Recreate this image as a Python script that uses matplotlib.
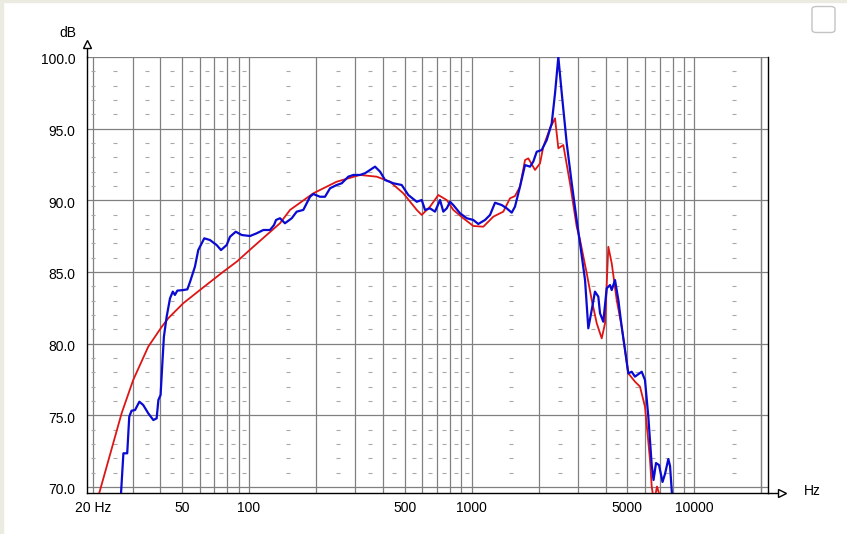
import matplotlib;
matplotlib.use( 'Agg' );
import matplotlib.pyplot as plt;
import numpy as np;

from matplotlib.patches import FancyBboxPatch, Rectangle;
from matplotlib.ticker import FixedLocator, FixedFormatter, NullLocator;
from matplotlib.transforms import ScaledTranslation;


# red trace (smoothed / model)
RED_HZ \
  = [ 21.2, 26.8, 30.2, 35.3, 40.6, 43.4, 50.7, 62.4, 76.7, 88.1,
      104.6, 137.8, 152.9, 194.5, 247.7, 315.2, 374.6, 429.8, 493.2, 566.7,
      596.7, 650.2, 708.5, 772.8, 827, 917, 1017, 1128, 1251, 1387,
      1486, 1565, 1648, 1736, 1796, 1925, 2027, 2097, 2248, 2368,
      2450, 2579, 2764, 2962, 3066, 3286, 3460, 3644, 3837, 3971,
      4108, 4255, 4479, 4717, 5050, 5412, 5700, 6002, 6322, 6434,
      6522, 6692, 6796, 6974 ];
RED_DB \
  = [ 69.5, 75.14, 77.46, 79.79, 81.18, 81.77, 82.82, 83.93, 85.02, 85.72,
      86.76, 88.40, 89.33, 90.49, 91.30, 91.77, 91.65, 91.30, 90.49, 89.33,
      88.98, 89.56, 90.37, 90.02, 89.33, 88.75, 88.21, 88.16, 88.86, 89.21,
      90.14, 90.30, 90.95, 92.81, 92.93, 92.12, 92.58, 93.74, 95.03, 95.72,
      93.63, 93.86, 91.19, 88.16, 87.23, 84.91, 83.05, 81.42, 80.37, 81.42,
      86.76, 85.61, 83.05, 81.18, 77.93, 77.35, 77.00, 75.60, 71.88, 70.02,
      69.44, 69.50, 70.03, 69.44 ];

# blue trace (measured)
BLUE_HZ \
  = [ 26.6, 27.3, 28.4, 29.0, 29.7, 30.8, 32.2, 33.5, 35.3, 37.2,
      38.5, 39.2, 40.1, 41.0, 41.5, 42.7, 44.2, 45.5, 46.5, 47.7,
      50.7, 52.9, 54.4, 57.2, 59.2, 63.0, 66.8, 71.6, 74.9, 79.4,
      82.2, 87.2, 92.8, 101.1, 108.3, 116.0, 124.3, 129.6, 132.3, 137.8,
      145.1, 155.6, 163.8, 175.4, 188.0, 194.5, 208.4, 219.5, 231.2, 247.7,
      260.9, 279.3, 294.2, 315.2, 332, 349.7, 368.3, 387.9, 408.3, 444.8,
      485.2, 519.5, 566.7, 596.7, 617.4, 650.2, 684.4, 721.1, 746.0, 772.8,
      799.2, 827, 886.4, 950.3, 1017, 1071, 1148, 1209, 1273, 1365,
      1437, 1513, 1565, 1648, 1736, 1828, 1891, 1959, 2063, 2173,
      2288, 2368, 2450, 2538, 2672, 2814, 2962, 3066, 3229, 3340,
      3460, 3578, 3704, 3770, 3900, 4040, 4180, 4255, 4402, 4556,
      4717, 4882, 5050, 5232, 5412, 5802, 6002, 6212, 6434, 6556,
      6726, 6938, 7194, 7382, 7640, 7776, 7938 ];
BLUE_DB \
  = [ 69.4, 72.35, 72.35, 74.90, 75.32, 75.37, 75.95, 75.72, 75.14, 74.67,
      74.79, 76.07, 76.42, 79.09, 80.49, 81.88, 83.16, 83.63, 83.40, 83.70,
      83.74, 83.79, 84.32, 85.37, 86.53, 87.35, 87.23, 86.88, 86.53, 86.88,
      87.46, 87.81, 87.58, 87.51, 87.70, 87.93, 87.93, 88.28, 88.63, 88.75,
      88.40, 88.75, 89.21, 89.33, 90.25, 90.44, 90.25, 90.25, 90.84, 91.07,
      91.19, 91.65, 91.77, 91.77, 91.89, 92.12, 92.35, 92.00, 91.42, 91.19,
      91.07, 90.37, 89.90, 90.02, 89.33, 89.44, 89.21, 90.02, 89.21, 89.44,
      89.90, 89.67, 89.10, 88.75, 88.63, 88.35, 88.63, 88.98, 89.83, 89.67,
      89.44, 89.14, 89.56, 90.95, 92.46, 92.35, 92.70, 93.39, 93.51, 94.21,
      95.37, 97.47, 100.0, 97.47, 93.98, 91.19, 88.63, 87.00, 84.44, 81.07,
      82.35, 83.63, 83.28, 82.12, 81.53, 83.86, 84.09, 83.74, 84.44, 83.05,
      81.18, 79.56, 77.93, 78.04, 77.70, 78.04, 77.46, 74.90, 71.53, 70.49,
      71.67, 71.53, 70.35, 70.91, 71.95, 71.46, 69.44 ];

XTICKs = [ 20, 50, 100, 500, 1000, 5000, 10000 ];
XTICK_LABELs = [ '20 Hz', '50', '100', '500', '1000', '5000', '10000' ];
YTICKs = [ 70, 75, 80, 85, 90, 95, 100 ];
YTICK_LABELs = [ '70.0', '75.0', '80.0', '85.0', '90.0', '95.0', '100.0' ];

GRID = '#808080';


def main():

  plt.rcParams[ 'font.family' ] = [ 'Liberation Sans', 'DejaVu Sans' ];
  plt.rcParams[ 'font.size' ] = 10;

  W, H = 847.0, 534.0;
  fig = plt.figure( figsize=( W/100, H/100 ), dpi=100 );
  fig.patch.set_facecolor( 'white' );

  # axes box in pixels: left 86.7, right 768, top 57, bottom 493
  ax = fig.add_axes( [ 86.7/W, 1-493/H, (768-86.7)/W, (493-57)/H ] );
  ax.set_xscale( 'log' );
  ax.set_xlim( 18.68, 21410 );
  ax.set_ylim( 69.58, 100 );

  # log grid: 20..100, 200..1000, ...
  vgrid = [ m*d for d in ( 10, 100, 1000, 10000 ) for m in range( 1, 10 ) ];
  vgrid = [ f for f in vgrid if 20 <= f <= 20000 ] + [ 20000 ];
  ax.vlines( vgrid, 69.58, 100, colors=GRID, lw=0.9, zorder=1 );
  ax.hlines( YTICKs, 18.68, 21410, colors=GRID, lw=0.9, zorder=1 );

  # little dashes at the half-steps
  fdash = [ 20 ] + [ ( m+0.5 )*d for d in ( 10, 100, 1000, 10000 ) for m in range( 1, 10 ) ];
  fdash = [ f for f in fdash if 20 <= f < 20000 ];
  ddash = [ v for v in range( 71, 100 ) if v % 5 != 0 ];
  fx, dy = np.meshgrid( fdash, ddash );
  ax.plot( fx.ravel(), dy.ravel(), ls='', marker='_', ms=2.6, mew=0.8,
           color='#a8a8a8', zorder=1 );

  ax.plot( RED_HZ, RED_DB, color='#dd1515', lw=1.3, zorder=3 );
  ax.plot( BLUE_HZ, BLUE_DB, color='#0a0ad0', lw=1.6, zorder=4 );

  # ticks
  ax.xaxis.set_major_locator( FixedLocator( XTICKs ) );
  ax.xaxis.set_major_formatter( FixedFormatter( XTICK_LABELs ) );
  ax.xaxis.set_minor_locator( NullLocator() );
  ax.yaxis.set_major_locator( FixedLocator( YTICKs ) );
  ax.yaxis.set_major_formatter( FixedFormatter( YTICK_LABELs ) );
  ax.tick_params( axis='both', length=0 );
  ax.tick_params( axis='x', pad=6 );
  ax.tick_params( axis='y', pad=8 );
  shift = ScaledTranslation( 0, -2/100, fig.dpi_scale_trans );
  for t in ax.yaxis.get_major_ticks():
    t.label1.set_transform( t.label1.get_transform() + shift );

  for s in ( 'left', 'bottom', 'right' ):
    ax.spines[ s ].set_color( 'black' );
    ax.spines[ s ].set_linewidth( 1.0 );
  ax.spines[ 'top' ].set_visible( False );

  # axis arrows
  ax.plot( [ 0, 0 ], [ 1, 1+10/436 ], transform=ax.transAxes, clip_on=False,
           color='black', lw=1.0 );
  ax.plot( [ 0 ], [ 1+13/436 ], transform=ax.transAxes, clip_on=False,
           marker='^', ms=6, mfc='white', mec='black', mew=1.0 );
  ax.plot( [ 1, 1+12/681.3 ], [ 0, 0 ], transform=ax.transAxes, clip_on=False,
           color='black', lw=1.0 );
  ax.plot( [ 1+14/681.3 ], [ 0 ], transform=ax.transAxes, clip_on=False,
           marker='>', ms=6, mfc='white', mec='black', mew=1.0 );

  fig.text( 76/W, 1-33/H, 'dB', ha='right', va='center' );
  fig.text( 804/W, 1-491/H, 'Hz', ha='left', va='center' );

  # window decoration
  fig.patches.append( Rectangle( ( 0, 0 ), 3/W, 1, transform=fig.transFigure,
                                 color='#ecebe2', zorder=0 ) );
  fig.patches.append( Rectangle( ( 0, 1-2/H ), 1, 2/H, transform=fig.transFigure,
                                 color='#ecebe2', zorder=0 ) );
  fig.patches.append( FancyBboxPatch( ( 812/W, 1-32.5/H ), 23/W, 26/H,
                                      boxstyle='round,pad=0,rounding_size=0.005',
                                      ec='#c4c4c4', fc='white', lw=1.0,
                                      transform=fig.transFigure ) );

  fig.savefig( 'out.png', dpi=100 );



if __name__ == "__main__":

  main();
